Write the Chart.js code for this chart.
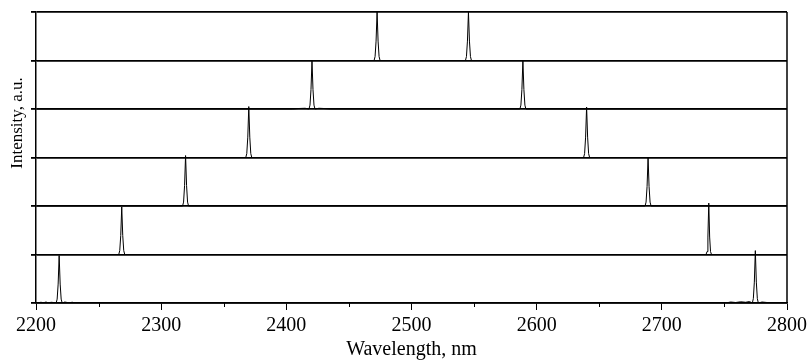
<!DOCTYPE html>
<html>
<head>
<meta charset="utf-8">
<script src="https://cdn.jsdelivr.net/npm/chart.js@4"></script>
<style>
  html, body { margin: 0; padding: 0; background: #fff; }
  #wrap { width: 811px; height: 360px; }
</style>
</head>
<body>
<div id="wrap"><canvas id="chart"></canvas></div>
<script>
//axis labels and ticks
const xTitle = "Wavelength, nm";
const yTitle = "Intensity, a.u.";
const xMin = 2200, xMax = 2800, xStep = 100, xMinorStep = 50;

//spectra, top panel first (wavelength, intensity)
const wl1 = [2200, 2470.1, 2470.9, 2471.7, 2472.5, 2473.3, 2474.1, 2474.9, 2543.1, 2543.9, 2544.7, 2545.5, 2546.3, 2547.1, 2547.9, 2800];
const in1 = [0, 0, 0.08, 0.4, 1.0, 0.4, 0.08, 0, 0, 0.08, 0.4, 1.0, 0.4, 0.08, 0, 0];

const wl2 = [2200, 2405, 2410, 2415, 2418.1, 2418.9, 2419.7, 2420.5, 2421.3, 2422.1, 2422.9, 2426, 2430, 2435, 2586.6, 2587.4, 2588.2, 2589, 2589.8, 2590.6, 2591.4, 2800];
const in2 = [0, 0, 0.01, 0.015, 0, 0.08, 0.4, 1.0, 0.4, 0.08, 0, 0.015, 0.01, 0, 0, 0.08, 0.4, 1.0, 0.4, 0.08, 0, 0];

const wl3 = [2200, 2367.6, 2368.4, 2369.2, 2370, 2370.8, 2371.6, 2372.4, 2637.5, 2638.3, 2639.1, 2639.9, 2640.7, 2641.5, 2642.3, 2800];
const in3 = [0, 0, 0.08, 0.42, 1.05, 0.42, 0.08, 0, 0, 0.08, 0.42, 1.04, 0.42, 0.08, 0, 0];

const wl4 = [2200, 2317.1, 2317.9, 2318.7, 2319.5, 2320.3, 2321.1, 2321.9, 2686.6, 2687.4, 2688.2, 2689, 2689.8, 2690.6, 2691.4, 2800];
const in4 = [0, 0, 0.08, 0.42, 1.04, 0.42, 0.08, 0, 0, 0.08, 0.4, 1.0, 0.4, 0.08, 0, 0];

const wl5 = [2200, 2266.1, 2266.9, 2267.7, 2268.5, 2269.3, 2270.1, 2270.9, 2735.3, 2736.1, 2736.8, 2737.5, 2738.2, 2738.9, 2739.7, 2800];
const in5 = [0, 0, 0.08, 0.39, 0.98, 0.39, 0.08, 0, 0, 0.06, 0.36, 1.06, 0.36, 0.06, 0, 0];

const wl6 = [2200, 2204, 2206, 2208, 2210, 2212, 2214, 2216.1, 2216.9, 2217.7, 2218.5, 2219.3, 2220.1, 2220.9, 2223, 2226, 2229, 2232, 2235, 2751, 2755, 2759, 2763, 2767, 2770, 2772.3, 2773.1, 2773.9, 2774.7, 2775.5, 2776.3, 2777.1, 2780, 2784, 2800];
const in6 = [0, 0.015, 0.005, 0.02, 0, 0.015, 0.01, 0, 0.08, 0.39, 0.98, 0.39, 0.08, 0, 0.02, 0.005, 0.015, 0, 0.01, 0, 0.02, 0.01, 0.025, 0.015, 0.03, 0, 0.09, 0.43, 1.08, 0.43, 0.09, 0, 0.02, 0.01, 0];

const spectra = [[wl1, in1], [wl2, in2], [wl3, in3], [wl4, in4], [wl5, in5], [wl6, in6]];
const nPanels = spectra.length;

const FONT = "'Liberation Serif', 'Times New Roman', serif";

//each spectrum sits on its own panel, stacked from the bottom
const datasets = spectra.map(([wl, inten], i) => ({
  data: wl.map((w, k) => ({ x: w, y: inten[k] + (nPanels - 1 - i) })),
  borderColor: "#000",
  borderWidth: 1,
  pointRadius: 0,
  tension: 0,
  fill: false,
}));

//frame, minor ticks and rotated y title
const extras = {
  id: "extras",
  afterDraw(chart) {
    const { ctx, chartArea: a, scales } = chart;
    const x = scales.x;
    ctx.save();
    ctx.strokeStyle = "#000";
    ctx.lineWidth = 1.5;
    ctx.beginPath();
    ctx.moveTo(a.right, a.top);
    ctx.lineTo(a.right, a.bottom);
    ctx.stroke();
    ctx.lineWidth = 1;
    for (let v = xMin + xMinorStep; v < xMax; v += xStep) {
      const px = Math.round(x.getPixelForValue(v)) + 0.5;
      ctx.beginPath();
      ctx.moveTo(px, a.bottom);
      ctx.lineTo(px, a.bottom + 4);
      ctx.stroke();
    }
    ctx.fillStyle = "#000";
    ctx.font = "17px " + FONT;
    ctx.textAlign = "center";
    ctx.textBaseline = "middle";
    ctx.translate(18, 123);
    ctx.rotate(-Math.PI / 2);
    ctx.fillText(yTitle, 0, 0);
    ctx.restore();
  },
};

new Chart(document.getElementById("chart"), {
  type: "line",
  data: { datasets: datasets },
  plugins: [extras],
  options: {
    responsive: true,
    maintainAspectRatio: false,
    animation: false,
    layout: { padding: { top: 12, right: 23, left: 0, bottom: 0 } },
    plugins: { legend: { display: false }, tooltip: { enabled: false } },
    scales: {
      x: {
        type: "linear",
        min: xMin,
        max: xMax,
        ticks: {
          stepSize: xStep,
          color: "#000",
          font: { family: FONT, size: 20 },
          padding: 4,
          maxRotation: 0,
          callback: (v) => String(v),
        },
        grid: { drawOnChartArea: false, color: "#000", tickLength: 7, lineWidth: 1 },
        border: { color: "#000", width: 1.5 },
        title: {
          display: true,
          text: xTitle,
          color: "#000",
          font: { family: FONT, size: 20 },
          padding: { top: 0, bottom: -2 },
        },
        afterFit(scale) { scale.height = 57; },
      },
      y: {
        min: 0,
        max: nPanels,
        ticks: { stepSize: 1, display: false },
        grid: { color: "#000", lineWidth: 1.8, tickLength: 5 },
        border: { color: "#000", width: 1.5 },
        afterFit(scale) { scale.width = 36; },
      },
    },
  },
});
</script>
</body>
</html>
